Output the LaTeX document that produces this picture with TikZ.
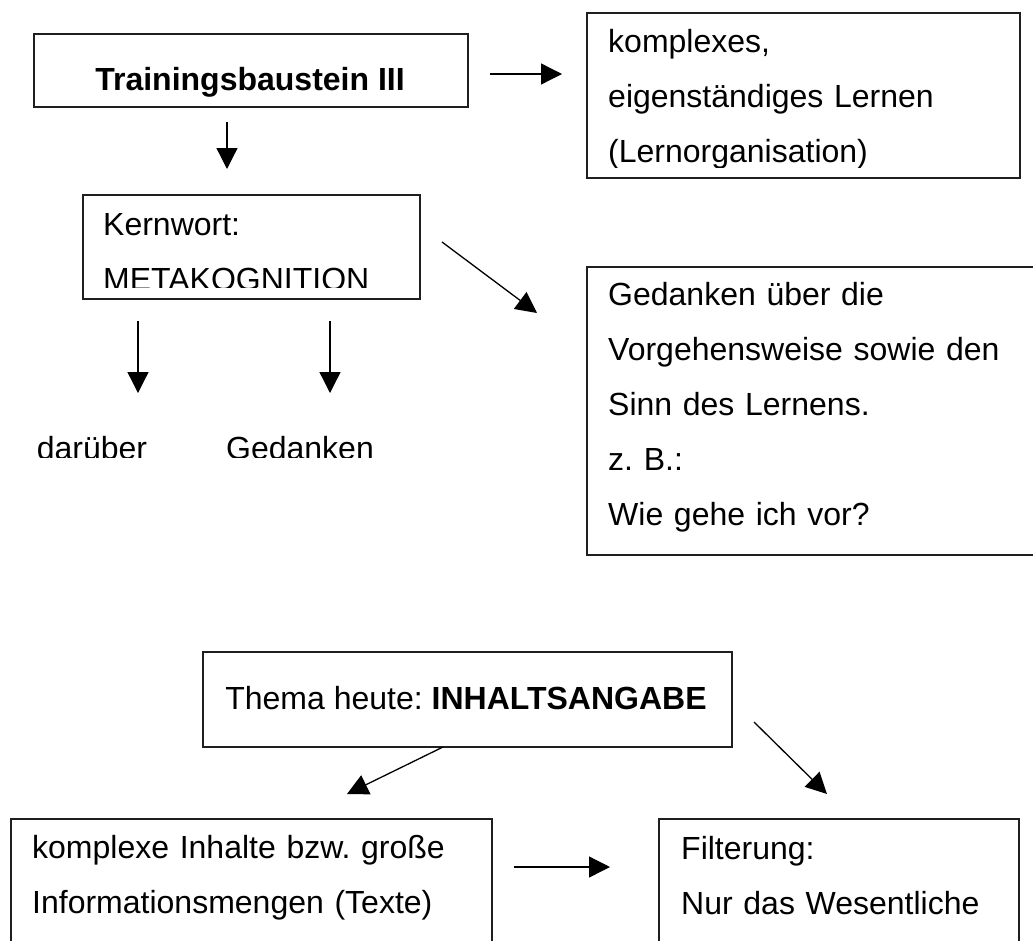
\documentclass[tikz,border=0pt]{standalone}
\usepackage{fontspec}
\setmainfont{Liberation Sans}
\frenchspacing
\usetikzlibrary{arrows.meta}
\tikzset{
  box/.style={draw=black!88, line width=1.6pt, anchor=north west, inner sep=0pt},
  txt/.style={anchor=base west, inner sep=0pt, align=left, text width=#1,
              font=\fontsize{32}{55}\selectfont\frenchspacing},
  txt/.default=420pt,
  lbl/.style={anchor=base, inner sep=0pt, font=\fontsize{32}{55}\selectfont\frenchspacing},
  arr/.style={line width=1.3pt, -{Triangle[length=21pt,width=21pt]}}
}
\begin{document}
\begin{tikzpicture}[x=1pt,y=-1pt]
\clip (0,0) rectangle (1033,940);
\fill[white] (0,0) rectangle (1033,940);

% --- boxes ---
\node[box, minimum width=434pt, minimum height=73pt] (b1) at (33,33) {};
\node[box, minimum width=433pt, minimum height=165pt] (b2) at (586,12) {};
\node[box, minimum width=337pt, minimum height=104pt] (b3) at (82,194) {};
\node[box, minimum width=470pt, minimum height=288pt] (b4) at (586,266) {};
\node[box, minimum width=529pt, minimum height=95pt] (b5) at (202,651) {};
\node[box, minimum width=481pt, minimum height=160pt] (b6) at (10,818) {};
\node[box, minimum width=360pt, minimum height=160pt] (b7) at (658,818) {};

% --- texts ---
\node[lbl, font=\fontsize{32}{55}\selectfont\bfseries] (t1) at (250,90) {Trainingsbaustein III};

\begin{scope}
  \clip (586,12) rectangle (1019,167);
  \node[txt] (t2) at (608,52) {komplexes,\\eigenständiges Lernen\\(Lernorganisation)};
\end{scope}

\begin{scope}
  \clip (82,194) rectangle (419,287);
  \node[txt=320pt] (t3) at (103,235) {Kernwort:\\METAKOGNITION};
\end{scope}

\node[txt] (t4) at (608,305) {Gedanken über die\\Vorgehensweise sowie den\\Sinn des Lernens.\\z. B.:\\Wie gehe ich vor?};

\begin{scope}
  \clip (0,400) rectangle (420,457);
  \node[lbl] (t5) at (92,459) {darüber};
  \node[lbl] (t6) at (300,459) {Gedanken};
\end{scope}

\node[lbl] (t7) at (466,709) {Thema heute: \textbf{INHALTSANGABE}};
\node[txt=470pt] (t8) at (32,858) {komplexe Inhalte bzw. große\\Informationsmengen (Texte)};
\node[txt=340pt] (t9) at (681,859) {Filterung:\\Nur das Wesentliche};

% --- arrow ends ---
\coordinate (a1s) at (490,74);  \coordinate (a1e) at (562,74);
\coordinate (a2s) at (227,122); \coordinate (a2e) at (227,169);
\coordinate (a3s) at (442,242); \coordinate (a3e) at (537,313);
\coordinate (a4s) at (138,321); \coordinate (a4e) at (138,393);
\coordinate (a5s) at (330,321); \coordinate (a5e) at (330,393);
\coordinate (a6s) at (443,747); \coordinate (a6e) at (347,794);
\coordinate (a7s) at (754,722); \coordinate (a7e) at (827,794);
\coordinate (a8s) at (514,867); \coordinate (a8e) at (610,867);

\draw[arr] (a1s) -- (a1e);
\draw[arr] (a2s) -- (a2e);
\draw[arr] (a3s) -- (a3e);
\draw[arr] (a4s) -- (a4e);
\draw[arr] (a5s) -- (a5e);
\draw[arr] (a6s) -- (a6e);
\draw[arr] (a7s) -- (a7e);
\draw[arr] (a8s) -- (a8e);
\end{tikzpicture}
\end{document}
